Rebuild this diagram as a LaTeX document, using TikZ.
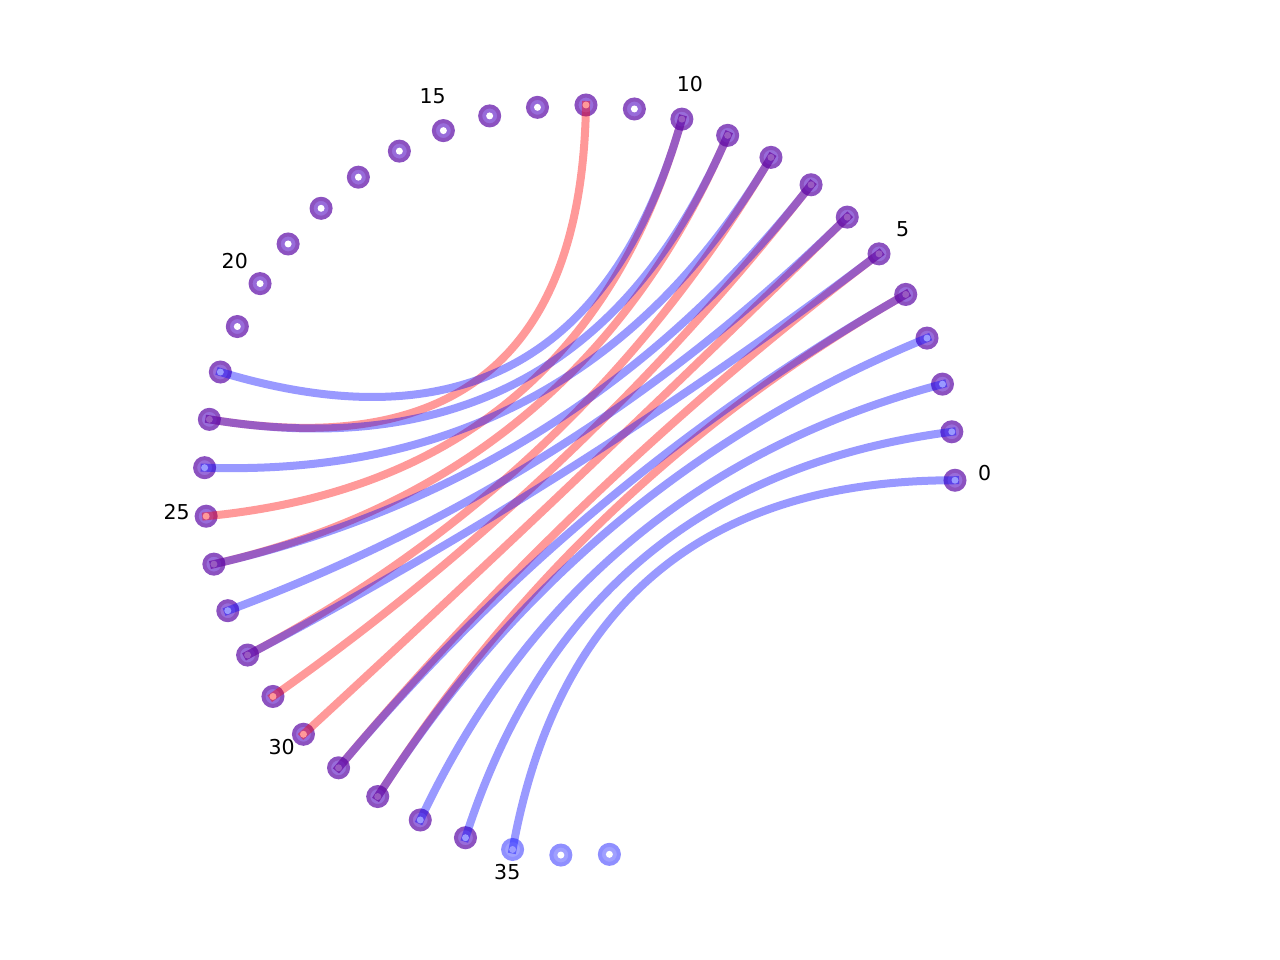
\documentclass[tikz,border=0pt]{standalone}
\usepackage{fontspec}
\setmainfont{DejaVu Sans}
\usetikzlibrary{calc}

\newcommand*{\rad}{375.3}
\newcommand*{\angstep}{7.42}
\newcommand*{\labrad}{405}

\definecolor{ringpurple}{RGB}{140,82,192}
\definecolor{fillpurple}{RGB}{152,108,218}
\definecolor{ringblue}{RGB}{143,143,255}
\definecolor{fillblue}{RGB}{160,160,255}

\begin{document}
\begin{tikzpicture}
[
	x=1pt,
	y=1pt,
	vertex/.style={circle,draw=ringpurple,fill=fillpurple,line width=4pt,inner sep=0pt,minimum size=19pt},
	bluevertex/.style={vertex,draw=ringblue,fill=fillblue},
	hole/.style={circle,fill=white,inner sep=0pt,minimum size=7pt},
	rededge/.style={draw=red,draw opacity=0.4,line width=8pt,line cap=rect},
	blueedge/.style={draw=blue,draw opacity=0.4,line width=8pt,line cap=rect},
	ticklabel/.style={font=\fontsize{20.5}{24}\selectfont,inner sep=0pt,yshift=7pt}
]

	\useasboundingbox (-579.7,-479.75) rectangle (700.3,480.25);
	\coordinate (o) at (0,0);

	% points on the circle
	\foreach \i in {0,...,34}
		\node[vertex] (n\i) at ({\i*\angstep}:\rad) {};
	\foreach \i in {35,36,37}
		\node[bluevertex] (n\i) at ({\i*\angstep}:\rad) {};
	\foreach \i in {0,...,37}
		\node[hole] (h\i) at (n\i.center) {};

	% labels
	\foreach \i in {0,5,...,35}
		\node[ticklabel] (l\i) at ({\i*\angstep}:\labrad) {\i};

	% red pairs
	\foreach \a/\b in {4/32,5/31,6/30,7/29,8/28,9/26,10/25,12/23}
		\draw[rededge] (n\a.center) .. controls ($(n\a.center)!0.6667!(o)$) and ($(n\b.center)!0.6667!(o)$) .. (n\b.center);

	% blue pairs
	\foreach \a/\b in {0/35,1/34,2/33,3/32,4/31,5/28,6/27,7/26,8/24,9/23,10/22}
		\draw[blueedge] (n\a.center) .. controls ($(n\a.center)!0.6667!(o)$) and ($(n\b.center)!0.6667!(o)$) .. (n\b.center);

\end{tikzpicture}
\end{document}
